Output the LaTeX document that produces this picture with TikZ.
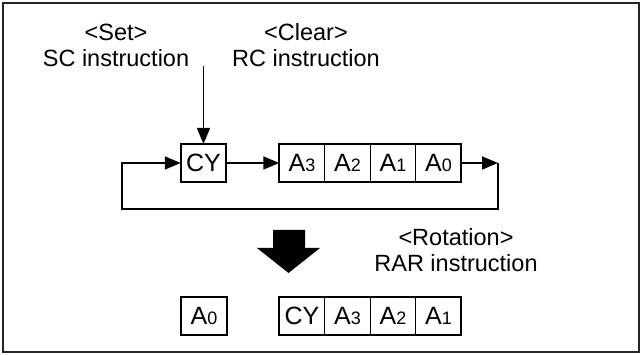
\documentclass[tikz,border=0pt]{standalone}
\usepackage{fontspec}
\setmainfont{Liberation Sans}
\usetikzlibrary{positioning}
\usetikzlibrary{arrows.meta}

\tikzset{
    cell/.style={draw, line width=1pt, minimum width=45.5pt, minimum height=38pt, inner sep=0pt, outer sep=0pt, font=\fontsize{25}{25}\selectfont},
    flag/.style={cell, line width=2pt},
    wire/.style={line width=1.5pt},
    arr/.style={-{Triangle[length=16pt,width=13pt]}}
}
\newcommand{\abit}[1]{A{\fontsize{18}{18}\selectfont #1}}

\begin{document}
\begin{tikzpicture}[x=1pt, y=1pt, font=\fontsize{23.5}{26}\selectfont]
    \useasboundingbox (0,0) rectangle (642,355);
    \draw[line width=2pt, black!85] (3,3) rectangle (639,352);

    \node[align=center] (set) at (116, 310) {<Set>\\SC instruction};
    \node[align=center] (clear) at (306, 310) {<Clear>\\RC instruction};

    % carry and accumulator before the rotation
    \node[flag] (cy) at (203.5, 192) {CY};
    \node[cell] (a3) at (302, 192) {\abit{3}};
    \node[cell, right=0pt of a3] (a2) {\abit{2}};
    \node[cell, right=0pt of a2] (a1) {\abit{1}};
    \node[cell, right=0pt of a1] (a0) {\abit{0}};
    \draw[line width=2pt] (a3.north west) rectangle (a0.south east);

    \coordinate (sc) at (203.5, 289);
    \coordinate (rt) at (498, 192);
    \coordinate (lf) at (122, 192);
    \draw[wire, arr] (sc) -- (cy.north);
    \draw[wire, arr] (cy) -- (a3);
    \draw[wire, arr] (a0) -- (rt);
    \draw[wire, arr] (rt) -- ++ (0, -46) -| (lf) -- (cy);

    \fill (273,125) -- (305,125) -- (305,107) -- (320,107) -- (288.5,82) -- (257,107) -- (273,107) -- cycle;
    \node[align=center] (rot) at (456, 105) {<Rotation>\\RAR instruction};

    % after the rotation
    \node[flag] (b0) at (204, 39) {\abit{0}};
    \node[cell] (bcy) at (302, 39) {CY};
    \node[cell, right=0pt of bcy] (b3) {\abit{3}};
    \node[cell, right=0pt of b3] (b2) {\abit{2}};
    \node[cell, right=0pt of b2] (b1) {\abit{1}};
    \draw[line width=2pt] (bcy.north west) rectangle (b1.south east);
\end{tikzpicture}
\end{document}
